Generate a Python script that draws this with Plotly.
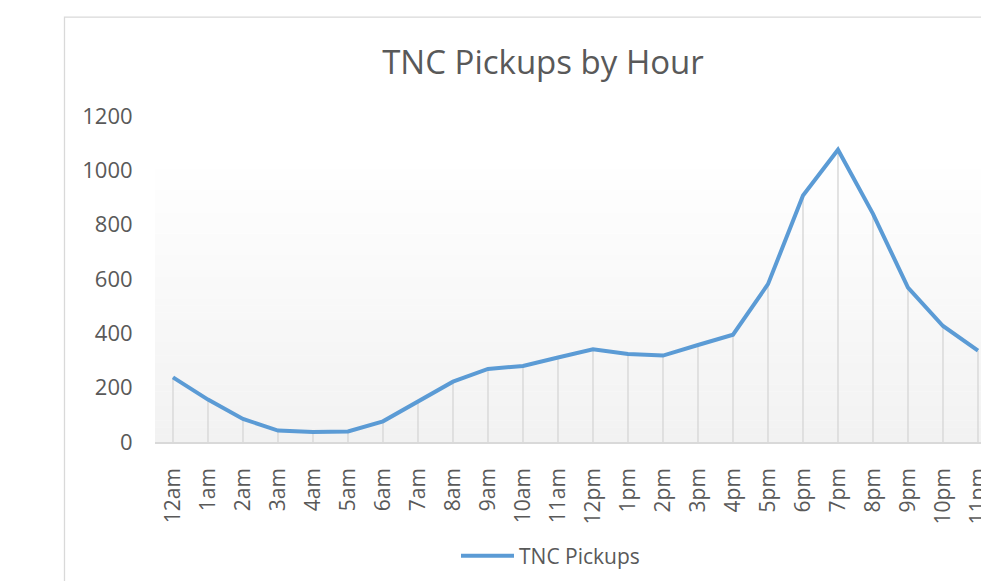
import plotly.graph_objects as go

hours = ["12am", "1am", "2am", "3am", "4am", "5am", "6am", "7am", "8am", "9am",
         "10am", "11am", "12pm", "1pm", "2pm", "3pm", "4pm", "5pm", "6pm", "7pm",
         "8pm", "9pm", "10pm", "11pm"]
pickups = [238, 156, 85, 42, 37, 39, 76, 147, 222, 269, 280, 311, 341, 324, 318,
           357, 395, 581, 907, 1076, 840, 568, 427, 336]
y_ticks = [0, 200, 400, 600, 800, 1000, 1200]
series_name = "TNC Pickups"

W, H = 981, 581
L, R, T, B = 155, 0, 116.3, 581 - 442.3
PW, PH = W - L - R, H - T - B

def px_x(px):
    return (px - L) / PW

def px_y(py):
    return (H - B - py) / PH

FONT = "Open Sans"
GRAY = "#595959"
BLUE = "#5b9bd5"

# drop lines built from the data
drop_x, drop_y = [], []
for h, v in zip(hours, pickups):
    drop_x += [h, h, None]
    drop_y += [0, v, None]

fig = go.Figure()
fig.add_trace(go.Scatter(x=drop_x, y=drop_y, mode="lines",
                         line=dict(color="#d9d9d9", width=1.5),
                         showlegend=False, hoverinfo="skip"))
fig.add_trace(go.Scatter(x=hours, y=pickups, mode="lines", name=series_name,
                         line=dict(color=BLUE, width=4), showlegend=False))

shapes = []
# gradient plot-area fill (white at top to light gray at bottom)
n = 40
top = px_y(155)
for i in range(n):
    f0 = i / n
    f1 = (i + 1) / n
    t = (i + 0.5) / n  # 0 bottom -> 1 top
    c = round(242 + (255 - 242) * t)
    shapes.append(dict(type="rect", xref="paper", yref="paper",
                       x0=0, x1=1, y0=top * f0, y1=top * f1 + 0.001,
                       fillcolor=f"rgb({c},{c},{c})", line=dict(width=0),
                       layer="below"))
# chart-area border (left and top edges visible)
shapes.append(dict(type="path", xref="paper", yref="paper",
                   path=f"M {px_x(64.5)} {px_y(600)} L {px_x(64.5)} {px_y(17.5)} L {px_x(1100)} {px_y(17.5)}",
                   line=dict(color="#d9d9d9", width=1.3)))
# legend key line
shapes.append(dict(type="line", xref="paper", yref="paper",
                   x0=px_x(461), x1=px_x(514), y0=px_y(556), y1=px_y(556),
                   line=dict(color=BLUE, width=4)))

fig.update_layout(
    width=W, height=H,
    margin=dict(l=L, r=R, t=T, b=B, pad=0, autoexpand=False),
    paper_bgcolor="white", plot_bgcolor="white",
    font=dict(family=FONT, color=GRAY, size=21),
    title=dict(text="TNC Pickups by Hour", x=543 / W, xanchor="center",
               y=1 - 62 / H, yanchor="middle", yref="container",
               font=dict(family=FONT, size=33, color=GRAY)),
    shapes=shapes,
    showlegend=False,
    annotations=[dict(text=series_name, xref="paper", yref="paper",
                      x=px_x(517), y=px_y(556), xanchor="left", yanchor="middle",
                      showarrow=False,
                      font=dict(family=FONT, size=21, color=GRAY))],
)
fig.update_xaxes(type="category", categoryorder="array", categoryarray=hours,
                 range=[-0.514, 23.086], showgrid=False, zeroline=False,
                 showline=True, linecolor="#d9d9d9", linewidth=1.5,
                 ticks="outside", ticklen=16, tickcolor="rgba(0,0,0,0)",
                 tickangle=-90, tickfont=dict(family=FONT, size=21, color=GRAY),
                 automargin=False, fixedrange=True)
fig.update_yaxes(range=[0, 1200], tickvals=y_ticks, showgrid=False,
                 zeroline=False, showline=False,
                 ticks="outside", ticklen=17, tickcolor="rgba(0,0,0,0)",
                 tickfont=dict(family=FONT, size=22, color=GRAY),
                 automargin=False, fixedrange=True)

fig.write_html("out.html", config={"displayModeBar": False},
               post_script="document.body.style.margin='0';document.body.style.overflow='hidden';")
